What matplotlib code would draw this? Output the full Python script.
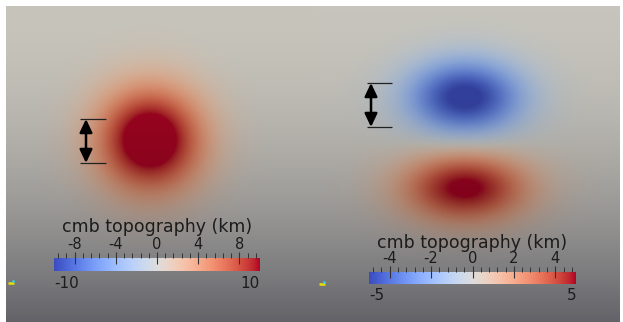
import numpy as np
import matplotlib
matplotlib.use("Agg")
import matplotlib.pyplot as plt
from matplotlib.colors import Normalize

# ---------------- data ----------------
# panel sizes in pixels (rendered surface)
left_size = (311, 316)
right_size = (303, 316)

# anomalies: (x-centre, y-centre, amplitude km, sigma-x, sigma-y) in panel pixels
left_blobs_x = [144]
left_blobs_y = [134]
left_blobs_amp = [13.0]
left_blobs_sx = [36.0]
left_blobs_sy = [36.0]

right_blobs_x = [148, 148]
right_blobs_y = [91, 182]
right_blobs_amp = [-5.4, 5.3]
right_blobs_sx = [40.0, 43.0]
right_blobs_sy = [26.0, 24.0]

left_range = (-10, 10)
right_range = (-5, 5)
left_major = [-8, -4, 0, 4, 8]
right_major = [-4, -2, 0, 2, 4]
left_minor_step = 0.8
right_minor_step = 0.4

cbar_title = "cmb topography (km)"

# arrows (x, y_top, y_bottom, line x0, line x1)
left_arrow = (80, 113, 157, 74, 100)
right_arrow = (54, 77, 121, 50, 75)

# surface shading (zero-level colour) top -> bottom
shade_top = np.array([199, 196, 187]) / 255.0
shade_bottom = np.array([98, 98, 104]) / 255.0

cmap = plt.get_cmap("coolwarm")


def field(size, xs, ys, amps, sxs, sys_):
    W, H = size
    X, Y = np.meshgrid(np.arange(W) + 0.5, np.arange(H) + 0.5)
    F = np.zeros_like(X)
    for x0, y0, a, sx, sy in zip(xs, ys, amps, sxs, sys_):
        F += a * np.exp(-((X - x0) ** 2) / (2 * sx ** 2) - ((Y - y0) ** 2) / (2 * sy ** 2))
    return F


def render(F, vrange):
    H, W = F.shape
    norm = Normalize(*vrange, clip=True)
    rgb = cmap(norm(F))[..., :3]
    mid = np.array(cmap(0.5)[:3])
    t = (np.arange(H) + 0.5) / H
    t = t ** 1.8
    base = shade_top[None, :] * (1 - t[:, None]) + shade_bottom[None, :] * t[:, None]
    img = rgb / mid[None, None, :] * base[:, None, :]
    return np.clip(img, 0, 1)


def draw_arrow(ax, arr):
    x, y0, y1, lx0, lx1 = arr
    ax.plot([lx0, lx1], [y0, y0], color="#222222", lw=0.9, solid_capstyle="butt")
    ax.plot([lx0, lx1], [y1, y1], color="#222222", lw=0.9, solid_capstyle="butt")
    ax.annotate("", xy=(x, y0), xytext=(x, y1),
                arrowprops=dict(arrowstyle="<|-|>,head_length=0.8,head_width=0.38",
                                color="black", lw=1.8, shrinkA=0, shrinkB=0))


def draw_glyph(ax, x, y):
    ax.plot([x - 5, x + 1], [y, y], color="#e8e000", lw=1.8, solid_capstyle="butt")
    ax.plot([x], [y - 2.5], marker="o", ms=2.0, color="#30d0e0", mew=0)


FW, FH = 623, 322
fig = plt.figure(figsize=(FW / 100, FH / 100), dpi=100)
fig.patch.set_facecolor("white")


def fax(x0, y0, x1, y1):
    return fig.add_axes([x0 / FW, 1 - y1 / FH, (x1 - x0) / FW, (y1 - y0) / FH])


# left panel
axL = fax(6, 6, 317, 322)
FL = field(left_size, left_blobs_x, left_blobs_y, left_blobs_amp, left_blobs_sx, left_blobs_sy)
axL.imshow(render(FL, left_range), extent=(0, left_size[0], left_size[1], 0),
           interpolation="bilinear", aspect="auto")
draw_arrow(axL, left_arrow)
draw_glyph(axL, 7, 277)
axL.set_xlim(0, left_size[0]); axL.set_ylim(left_size[1], 0)
axL.axis("off")

# right panel
axR = fax(317, 6, 620, 322)
FR = field(right_size, right_blobs_x, right_blobs_y, right_blobs_amp, right_blobs_sx, right_blobs_sy)
axR.imshow(render(FR, right_range), extent=(0, right_size[0], right_size[1], 0),
           interpolation="bilinear", aspect="auto")
draw_arrow(axR, right_arrow)
draw_glyph(axR, 7, 278)
axR.set_xlim(0, right_size[0]); axR.set_ylim(right_size[1], 0)
axR.axis("off")

txt_color = "#1c1c1c"


def colorbar(x0, y0, x1, y1, vrange, major, minor_step, title_y, end_y):
    ax = fax(x0, y0, x1, y1)
    grad = np.linspace(vrange[0], vrange[1], 256)[None, :]
    ax.imshow(grad, cmap=cmap, vmin=vrange[0], vmax=vrange[1],
              extent=(vrange[0], vrange[1], 0, 1), aspect="auto")
    ax.set_xlim(*vrange); ax.set_ylim(0, 1)
    for s in ax.spines.values():
        s.set_visible(False)
    ax.set_yticks([])
    ax.set_xticks(major)
    ax.set_xticklabels([f"{v:g}" for v in major])
    n = int(round((vrange[1] - vrange[0]) / minor_step))
    minors = [round(vrange[0] + minor_step * 0.5 + i * minor_step, 6) for i in range(n)]
    ax.set_xticks(minors, minor=True)
    ax.tick_params(axis="x", which="major", top=True, bottom=False, labeltop=True,
                   labelbottom=False, direction="inout", length=8, width=0.8,
                   color="#333333", labelsize=10.5, labelcolor=txt_color, pad=0)
    ax.tick_params(axis="x", which="minor", top=True, bottom=False,
                   direction="out", length=3.5, width=0.7, color="#333333")
    cx = (x0 + x1) / 2
    fig.text(cx / FW, 1 - title_y / FH, cbar_title, ha="center", va="center",
             fontsize=12.5, color=txt_color)
    fig.text(x0 / FW, 1 - end_y / FH, f"{vrange[0]:g}", ha="left", va="center",
             fontsize=11, color=txt_color)
    fig.text(x1 / FW, 1 - end_y / FH, f"{vrange[1]:g}", ha="right", va="center",
             fontsize=11, color=txt_color)
    return ax


colorbar(54, 258, 260, 271, left_range, left_major, left_minor_step, 227, 283)
colorbar(369, 272, 576, 284, right_range, right_major, right_minor_step, 243, 295)

fig.savefig("out.png", dpi=100, facecolor="white")
